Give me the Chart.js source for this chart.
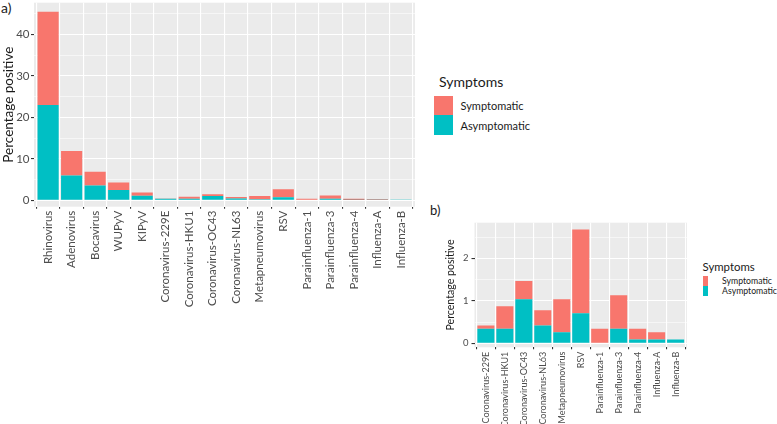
<!DOCTYPE html>
<html>
<head>
<meta charset="utf-8">
<script src="https://cdn.jsdelivr.net/npm/chart.js@4.4.1/dist/chart.umd.min.js"></script>
<style>
  body { margin: 0; width: 777px; height: 424px; background: #fff; position: relative; overflow: hidden; font-family: Lato, sans-serif; color: #1a1a1a; }
  canvas { position: absolute; }
  #chartA { left: 0; top: 0; }
  #chartB { left: 435px; top: 205px; }
  .tag { position: absolute; font-size: 14px; line-height: 16px; }
  .legend { position: absolute; }
  .legend .title { white-space: nowrap; }
  .legend .row { display: flex; align-items: center; white-space: nowrap; }
  .legend .key { flex: none; }
</style>
</head>
<body>
<div class="tag" style="left:1px;top:0px">a)</div>
<div class="tag" style="left:430px;top:202px;font-size:13px">b)</div>
<canvas id="chartA"></canvas>
<canvas id="chartB"></canvas>
<div class="legend" id="legendA" style="left:434px;top:73.6px"></div>
<div class="legend" id="legendB" style="left:702.5px;top:260.2px"></div>
<script>
// panel a: all viruses
const virusesA = ['Rhinovirus', 'Adenovirus', 'Bocavirus', 'WUPyV', 'KIPyV', 'Coronavirus-229E', 'Coronavirus-HKU1',
  'Coronavirus-OC43', 'Coronavirus-NL63', 'Metapneumovirus', 'RSV', 'Parainfluenza-1', 'Parainfluenza-3',
  'Parainfluenza-4', 'Influenza-A', 'Influenza-B'];
const asymptomaticA = [23.0, 6.0, 3.55, 2.5, 1.1, 0.34, 0.34, 1.04, 0.42, 0.26, 0.71, 0, 0.34, 0.09, 0.09, 0.09];
const symptomaticA = [22.5, 5.9, 3.35, 1.8, 0.75, 0.08, 0.53, 0.43, 0.36, 0.78, 1.97, 0.34, 0.79, 0.25, 0.17, 0];
const yTicksA = [0, 10, 20, 30, 40];
const yRangeA = [-1.55, 47.7];

// panel b: the less common viruses only
const virusesB = virusesA.slice(5);
const asymptomaticB = asymptomaticA.slice(5);
const symptomaticB = symptomaticA.slice(5);
const yTicksB = [0, 1, 2];
const yRangeB = [-0.094, 2.84];

const RED = '#F8766D';
const TEAL = '#00BFC4';
const FONT = 'Lato';

const panelBg = {
  id: 'panelBg',
  beforeDraw(chart) {
    const a = chart.chartArea;
    const c = chart.ctx;
    c.save();
    c.fillStyle = '#EBEBEB';
    c.fillRect(a.left, a.top, a.right - a.left, a.bottom - a.top);
    c.restore();
  }
};

// legend built from the chart's own datasets, top item = last stacked dataset
function htmlLegend(chart, el, o) {
  const title = document.createElement('div');
  title.className = 'title';
  title.textContent = 'Symptoms';
  title.style.cssText = `font-size:${o.titleSize}px;line-height:${o.titleSize * 1.2}px;margin-left:${o.titleIndent}px;margin-bottom:${o.titleGap}px`;
  el.appendChild(title);
  chart.data.datasets.slice().reverse().forEach(ds => {
    const row = document.createElement('div');
    row.className = 'row';
    row.style.height = o.key[1] + 'px';
    const key = document.createElement('span');
    key.className = 'key';
    key.style.cssText = `width:${o.key[0]}px;height:${o.key[1]}px;background:${ds.backgroundColor}`;
    const txt = document.createElement('span');
    txt.textContent = ds.label;
    txt.style.cssText = `font-size:${o.labelSize}px;margin-left:${o.textGap}px`;
    row.appendChild(key);
    row.appendChild(txt);
    el.appendChild(row);
  });
}

function panel(id, o) {
  const cv = document.getElementById(id);
  cv.width = o.width;
  cv.height = o.height;

  const step = o.ticks[1] - o.ticks[0];
  const yAll = [];
  o.ticks.forEach(t => {
    yAll.push(t);
    if (t + step / 2 < o.range[1]) yAll.push(t + step / 2);
  });
  const isMajor = v => o.ticks.includes(v);

  return new Chart(cv, {
    type: 'bar',
    data: {
      datasets: [
        { label: 'Asymptomatic', data: o.asym.map((v, i) => ({ x: i, y: v })), backgroundColor: TEAL, borderWidth: 0 },
        { label: 'Symptomatic', data: o.sym.map((v, i) => ({ x: i, y: v })), backgroundColor: RED, borderWidth: 0 }
      ]
    },
    options: {
      responsive: false,
      animation: false,
      devicePixelRatio: 1,
      events: [],
      categoryPercentage: 1,
      barPercentage: 0.9,
      layout: { padding: { top: o.padTop, right: 0, left: 0, bottom: 0 } },
      scales: {
        x: {
          type: 'linear',
          stacked: true,
          offset: false,
          min: -0.6,
          max: o.labels.length - 0.4,
          afterBuildTicks: s => { s.ticks = o.labels.map((l, i) => ({ value: i })); },
          afterFit: s => { s.height = o.xHeight; s.paddingLeft = 0; s.paddingRight = 0; },
          ticks: {
            autoSkip: false, minRotation: 90, maxRotation: 90,
            padding: o.xPad, color: '#4D4D4D',
            font: { family: FONT, size: o.xSize },
            callback: v => o.labels[v]
          },
          grid: { color: '#fff', lineWidth: 1.1, tickColor: '#333', tickLength: 2 },
          border: { display: false }
        },
        y: {
          stacked: true,
          min: o.range[0],
          max: o.range[1],
          afterBuildTicks: s => { s.ticks = yAll.map(v => ({ value: v })); },
          afterFit: s => { s.width = o.yWidth; s.paddingTop = 0; s.paddingBottom = 0; },
          ticks: {
            padding: o.yPad, color: '#4D4D4D',
            font: { family: FONT, size: o.ySize },
            callback: v => isMajor(v) ? String(v) : ''
          },
          grid: {
            color: '#fff',
            lineWidth: c => (c.tick && isMajor(c.tick.value)) ? 1.1 : 0.55,
            tickColor: c => (c.tick && isMajor(c.tick.value)) ? '#333' : 'rgba(0,0,0,0)',
            tickLength: 3
          },
          border: { display: false },
          title: {
            display: true, text: 'Percentage positive', color: '#1a1a1a',
            font: { family: FONT, size: o.yTitleSize },
            padding: { top: o.yTitlePad, bottom: 0 }
          }
        }
      },
      plugins: {
        tooltip: { enabled: false },
        legend: { display: false }
      }
    },
    plugins: [panelBg]
  });
}

const chartA = panel('chartA', {
  labels: virusesA, asym: asymptomaticA, sym: symptomaticA, ticks: yTicksA, range: yRangeA,
  width: 415, height: 320, padTop: 2.7, yWidth: 34, xHeight: 113.3,
  xSize: 11.5, xPad: 2, ySize: 11.5, yPad: 1.5, yTitleSize: 13.5, yTitlePad: 1
});

const chartB = panel('chartB', {
  labels: virusesB, asym: asymptomaticB, sym: symptomaticB, ticks: yTicksB, range: yRangeB,
  width: 687 - 435, height: 219, padTop: 17.7, yWidth: 39.5, xHeight: 76.7,
  xSize: 9, xPad: 2.4, ySize: 9.5, yPad: 3, yTitleSize: 10.6, yTitlePad: 9.6
});

htmlLegend(chartA, document.getElementById('legendA'),
  { titleSize: 14, titleIndent: 5, titleGap: 5.6, key: [19, 19.5], labelSize: 11, textGap: 7.5 });
htmlLegend(chartB, document.getElementById('legendB'),
  { titleSize: 11.4, titleIndent: 0, titleGap: 1.8, key: [5, 10], labelSize: 8.7, textGap: 14.6 });
</script>
</body>
</html>
